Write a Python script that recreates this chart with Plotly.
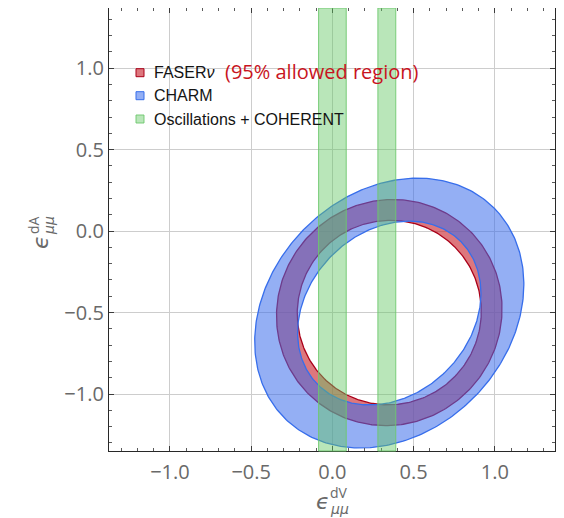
import numpy as np
import plotly.graph_objects as go

# ---------------- data ----------------
ring_names = ["FASER<i>ν</i>", "CHARM"]
ring_center_x = [0.35, 0.35]
ring_center_y = [-0.50, -0.503]
ring_outer_a = [0.705, 0.912]     # semi-axis along the tilt direction
ring_outer_b = [0.683, 0.735]     # semi-axis perpendicular to it
ring_inner_a = [0.570, 0.622]
ring_inner_b = [0.563, 0.500]
ring_angle_deg = [45.0, 45.0]

band_name = "Oscillations + COHERENT"
band_x0 = [-0.085, 0.28]
band_x1 = [0.085, 0.39]

tick_vals = [-1.0, -0.5, 0.0, 0.5, 1.0]
tick_text = ["\u22121.0", "\u22120.5", "0.0", "0.5", "1.0"]
x_range = [-1.375, 1.37]
y_range = [-1.35, 1.37]

legend_labels = ["FASER<i>ν</i>", "CHARM", "Oscillations + COHERENT"]
note_text = "(95% allowed region)"

# ---------------- styles ----------------
ring_fill = ["rgba(200,35,45,0.62)", "rgba(60,110,235,0.55)"]
ring_line = ["rgb(170,0,25)", "rgb(55,110,235)"]
band_fill = "rgba(100,200,100,0.45)"
band_line = "rgba(110,200,110,0.9)"

# page body has an 8px margin: the figure is placed at (8, 8) in the window
OFF = 8
WIN_W, WIN_H = 564, 518
W, H = WIN_W - OFF, WIN_H - OFF
ML, MR, MT, MB = 109 - OFF, 9, 8 - OFF, 67
PW, PH = W - ML - MR, H - MT - MB


def px(xp):  # window pixel -> paper
    return (xp - OFF - ML) / PW


def py(yp):
    return (H - MB - (yp - OFF)) / PH


def ellipse(cx, cy, a, b, ang, reverse=False):
    t = np.linspace(0, 2 * np.pi, 361)
    if reverse:
        t = t[::-1]
    th = np.deg2rad(ang)
    x = cx + a * np.cos(t) * np.cos(th) - b * np.sin(t) * np.sin(th)
    y = cy + a * np.cos(t) * np.sin(th) + b * np.sin(t) * np.cos(th)
    return x, y


fig = go.Figure()

for i in range(len(ring_names)):
    xo, yo = ellipse(ring_center_x[i], ring_center_y[i], ring_outer_a[i], ring_outer_b[i], ring_angle_deg[i])
    xi, yi = ellipse(ring_center_x[i], ring_center_y[i], ring_inner_a[i], ring_inner_b[i], ring_angle_deg[i], reverse=True)
    fig.add_trace(go.Scatter(
        x=np.concatenate([xo, xi]), y=np.concatenate([yo, yi]),
        mode="lines", fill="toself", fillcolor=ring_fill[i],
        line=dict(width=0), hoverinfo="skip", showlegend=False, name=ring_names[i]))
    fig.add_trace(go.Scatter(
        x=np.concatenate([xo, [None], xi]), y=np.concatenate([yo, [None], yi]),
        mode="lines", line=dict(color=ring_line[i], width=1.3),
        hoverinfo="skip", showlegend=False))

for x0, x1 in zip(band_x0, band_x1):
    fig.add_vrect(x0=x0, x1=x1, fillcolor=band_fill, line=dict(color=band_line, width=1),
                  layer="above")

axis_common = dict(
    tickvals=tick_vals, ticktext=tick_text,
    showgrid=True, gridcolor="rgb(205,205,205)", gridwidth=1,
    zeroline=False, showline=True, linecolor="rgb(40,40,40)", linewidth=1.3,
    mirror="allticks", ticks="inside", ticklen=5, tickcolor="rgb(60,60,60)", tickwidth=1,
    minor=dict(ticks="inside", dtick=0.1, tick0=0, ticklen=3, tickcolor="rgb(90,90,90)", showgrid=False),
    tickfont=dict(family="Open Sans", size=20, color="rgb(105,105,105)"),
)
fig.update_xaxes(range=x_range, ticklabelstandoff=3, **axis_common)
fig.update_yaxes(range=y_range, ticklabelstandoff=0, **axis_common)

# legend (manual)
row_y = [72.7, 95.7, 119.0]
sw_fill = [ring_fill[0], ring_fill[1], band_fill]
sw_line = [ring_line[0], ring_line[1], band_line]
for k, lab in enumerate(legend_labels):
    fig.add_shape(type="rect", xref="paper", yref="paper",
                  x0=px(136), x1=px(144), y0=py(row_y[k] + 4), y1=py(row_y[k] - 4),
                  fillcolor=sw_fill[k], line=dict(color=sw_line[k], width=1))
    fig.add_annotation(xref="paper", yref="paper", x=px(152), y=py(row_y[k]),
                       xanchor="left", yanchor="middle", text=lab, showarrow=False,
                       font=dict(family="Liberation Sans", size=16, color="rgb(20,20,20)"))
fig.add_annotation(xref="paper", yref="paper", x=px(223), y=py(72),
                   xanchor="left", yanchor="middle", text=note_text, showarrow=False,
                   font=dict(family="Open Sans", size=20, color="rgb(200,20,30)"))

# axis titles
lab_col = "rgb(105,105,105)"
fig.add_annotation(xref="paper", yref="paper", x=px(323), y=py(501), text="<i>ϵ</i>",
                   showarrow=False, xanchor="center", yanchor="middle",
                   font=dict(family="DejaVu Sans", size=22, color=lab_col))
fig.add_annotation(xref="paper", yref="paper", x=px(339), y=py(493), text="dV",
                   showarrow=False, xanchor="center", yanchor="middle",
                   font=dict(family="Open Sans", size=14, color=lab_col))
fig.add_annotation(xref="paper", yref="paper", x=px(339), y=py(509), text="<i>μμ</i>",
                   showarrow=False, xanchor="center", yanchor="middle",
                   font=dict(family="DejaVu Sans", size=14, color=lab_col))

fig.add_annotation(xref="paper", yref="paper", x=px(40), y=py(242), text="<i>ϵ</i>", textangle=-90,
                   showarrow=False, xanchor="center", yanchor="middle",
                   font=dict(family="DejaVu Sans", size=22, color=lab_col))
fig.add_annotation(xref="paper", yref="paper", x=px(33), y=py(225), text="dA", textangle=-90,
                   showarrow=False, xanchor="center", yanchor="middle",
                   font=dict(family="Open Sans", size=14, color=lab_col))
fig.add_annotation(xref="paper", yref="paper", x=px(49), y=py(226), text="<i>μμ</i>", textangle=-90,
                   showarrow=False, xanchor="center", yanchor="middle",
                   font=dict(family="DejaVu Sans", size=14, color=lab_col))

fig.update_layout(
    width=W, height=H, margin=dict(l=ML, r=MR, t=MT, b=MB),
    paper_bgcolor="white", plot_bgcolor="white", showlegend=False,
)

fig.write_html("out.html")
